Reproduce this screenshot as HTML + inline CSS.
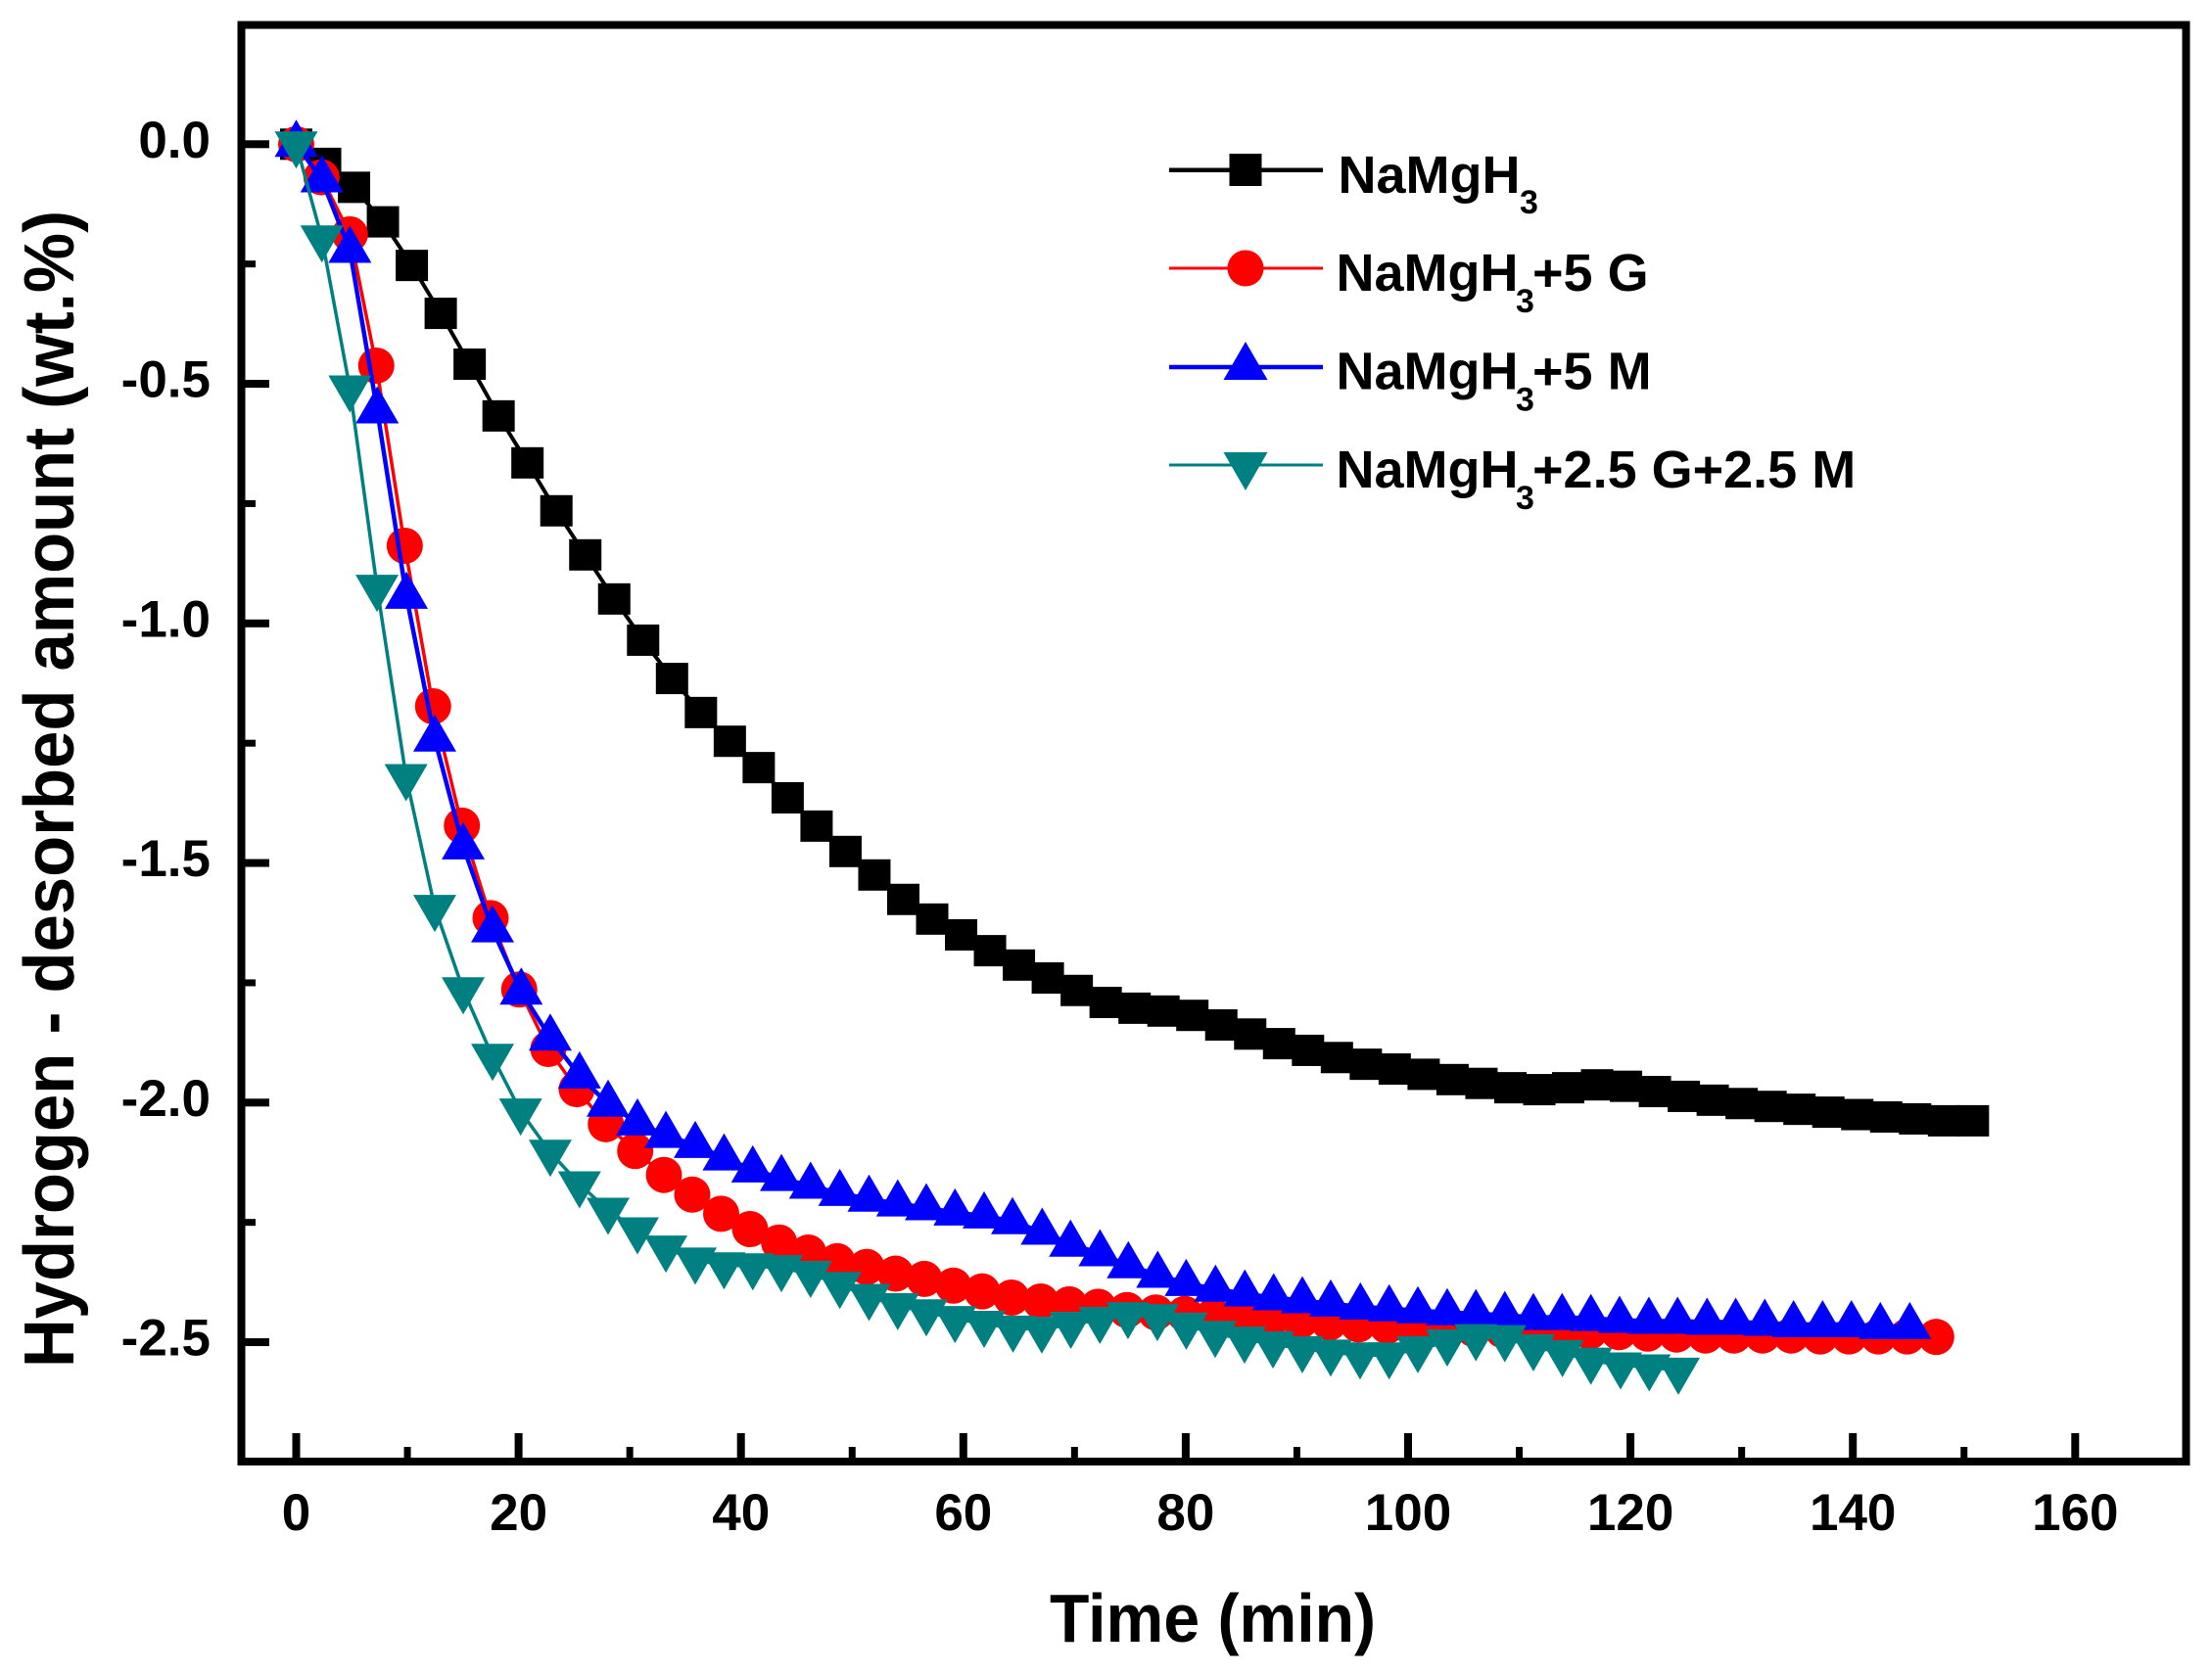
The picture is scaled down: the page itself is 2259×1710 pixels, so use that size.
<!DOCTYPE html>
<html lang="en">
<head>
<meta charset="utf-8">
<title>Hydrogen desorption kinetics</title>
<style>
html,body{margin:0;padding:0;background:#fff;}
svg{display:block;}
text{font-family:"Liberation Sans",Arial,sans-serif;font-weight:bold;fill:#000;}
</style>
</head>
<body>
<svg id="chart" xmlns="http://www.w3.org/2000/svg" width="2259" height="1710" viewBox="0 0 2259 1710">
  <rect x="0" y="0" width="2259" height="1710" fill="#fff"/>
  <g id="plot"></g>
  <g id="axes"></g>
  <rect x="246.7" y="25.3" width="1986" height="1467.7" fill="none" stroke="#000" stroke-width="8" shape-rendering="crispEdges"/>
  <text x="1072" y="1677" font-size="70" textLength="333" lengthAdjust="spacingAndGlyphs">Time (min)</text>
  <text transform="translate(75,1397) rotate(-90)" x="0" y="0" font-size="72" textLength="1182" lengthAdjust="spacingAndGlyphs">Hydrogen - desorbed amount (wt.%)</text>
  <g>
    <g>
      <line x1="1194" y1="173.7" x2="1351" y2="173.7" stroke="#000" stroke-width="4.5"/>
      <rect x="1255.5" y="157" width="33" height="33" fill="#000"/>
      <text x="1366.5" y="197" font-size="54">NaMgH<tspan x="1552" y="218" font-size="34">3</tspan></text>
    </g>
    <g>
      <line x1="1194" y1="274" x2="1351" y2="274" stroke="#f00" stroke-width="3"/>
      <circle cx="1272" cy="274" r="18.5" fill="#f00"/>
      <text x="1364.5" y="297" font-size="54">NaMgH<tspan x="1548" y="319" font-size="34">3</tspan><tspan x="1565" y="297">+5 G</tspan></text>
    </g>
    <g>
      <line x1="1194" y1="375" x2="1351" y2="375" stroke="#00f" stroke-width="4.5"/>
      <path d="M1272 349 L1294.5 388 L1249.5 388 Z" fill="#00f"/>
      <text x="1364.5" y="397.5" font-size="54">NaMgH<tspan x="1548" y="419.5" font-size="34">3</tspan><tspan x="1565" y="397.5">+5 M</tspan></text>
    </g>
    <g>
      <line x1="1194" y1="475" x2="1351" y2="475" stroke="#008080" stroke-width="3"/>
      <path d="M1272 501 L1294.5 462 L1249.5 462 Z" fill="#008080"/>
      <text x="1364.5" y="498" font-size="54">NaMgH<tspan x="1548" y="520" font-size="34">3</tspan><tspan x="1565" y="498">+2.5 G+2.5 M</tspan></text>
    </g>
  </g>
</svg>
<script>
const xMajorTicks = [0, 20, 40, 60, 80, 100, 120, 140, 160];
const xMinorTicks = [10, 30, 50, 70, 90, 110, 130, 150];
const yMajorTicks = [0, -0.5, -1, -1.5, -2, -2.5];
const yMinorTicks = [-0.25, -0.75, -1.25, -1.75, -2.25];
const xTickLabels = ["0", "20", "40", "60", "80", "100", "120", "140", "160"];
const yTickLabels = ["0.0", "-0.5", "-1.0", "-1.5", "-2.0", "-2.5"];

const blackTime = [0,2.6,5.2,7.8,10.4,13,15.6,18.2,20.8,23.4,26,28.6,31.2,33.8,36.4,39,41.6,44.2,46.8,49.4,52,54.6,57.2,59.8,62.4,65,67.6,70.2,72.8,75.4,78,80.6,83.2,85.8,88.4,91,93.6,96.2,98.8,101.4,104,106.6,109.2,111.8,114.4,117,119.6,122.2,124.8,127.4,130,132.6,135.2,137.8,140.4,143,145.6,148.2,150.8];
const blackValues = [0,-0.04,-0.09,-0.162,-0.253,-0.353,-0.459,-0.567,-0.665,-0.765,-0.857,-0.949,-1.035,-1.115,-1.186,-1.246,-1.301,-1.364,-1.423,-1.476,-1.525,-1.576,-1.617,-1.65,-1.683,-1.713,-1.74,-1.766,-1.791,-1.803,-1.809,-1.818,-1.838,-1.857,-1.877,-1.891,-1.906,-1.92,-1.93,-1.941,-1.952,-1.96,-1.969,-1.973,-1.969,-1.963,-1.966,-1.977,-1.987,-1.995,-2.002,-2.008,-2.014,-2.02,-2.025,-2.03,-2.034,-2.038,-2.038];

const redTime = [0,2.27,4.83,7.2,9.76,12.31,14.9,17.48,20.06,22.68,25.23,27.85,30.49,33.07,35.62,38.22,40.82,43.43,46.06,48.66,51.3,53.9,56.49,59.1,61.69,64.33,66.97,69.53,72.13,74.72,77.32,79.92,82.52,85.12,87.72,90.32,92.92,95.52,98.12,100.72,103.32,105.92,108.52,111.12,113.72,116.32,118.96,121.55,124.15,126.75,129.3,131.88,134.46,137.07,139.66,142.3,144.89,147.5];
const redValues = [0,-0.069,-0.188,-0.462,-0.838,-1.173,-1.422,-1.615,-1.764,-1.888,-1.972,-2.045,-2.101,-2.151,-2.192,-2.232,-2.264,-2.292,-2.313,-2.331,-2.343,-2.357,-2.368,-2.382,-2.394,-2.407,-2.415,-2.421,-2.426,-2.433,-2.438,-2.441,-2.445,-2.448,-2.451,-2.455,-2.459,-2.463,-2.466,-2.469,-2.471,-2.473,-2.475,-2.476,-2.477,-2.478,-2.479,-2.482,-2.484,-2.486,-2.486,-2.486,-2.486,-2.488,-2.488,-2.488,-2.488,-2.489];

const blueTime = [0,2.31,4.83,7.29,9.91,12.46,15.02,17.66,20.24,22.85,25.48,28.05,30.69,33.25,35.89,38.48,41.06,43.64,46.26,48.89,51.52,54.1,56.67,59.25,61.87,64.42,67.09,69.64,72.29,74.84,77.48,80.04,82.68,85.32,87.91,90.49,93.04,95.71,98.3,100.88,103.52,106.1,108.7,111.27,113.85,116.44,119.02,121.66,124.24,126.89,129.47,132.08,134.67,137.28,139.87,142.47,145.12];
const blueValues = [0,-0.074,-0.221,-0.556,-0.943,-1.241,-1.466,-1.639,-1.769,-1.865,-1.944,-2.003,-2.042,-2.068,-2.089,-2.115,-2.14,-2.158,-2.174,-2.189,-2.201,-2.211,-2.219,-2.23,-2.236,-2.248,-2.27,-2.295,-2.315,-2.34,-2.36,-2.377,-2.389,-2.399,-2.407,-2.413,-2.42,-2.426,-2.43,-2.434,-2.438,-2.44,-2.444,-2.448,-2.448,-2.45,-2.454,-2.456,-2.456,-2.458,-2.458,-2.46,-2.463,-2.463,-2.463,-2.467,-2.467];

const tealTime = [0,2.31,4.83,7.27,9.88,12.46,15.02,17.66,20.18,22.85,25.48,28.05,30.69,33.25,35.89,38.48,41.06,43.64,46.26,48.89,51.52,54.1,56.67,59.25,61.87,64.47,67.06,69.67,72.28,74.81,77.45,80.05,82.65,85.29,87.85,90.49,93.04,95.68,98.3,100.88,103.52,106.1,108.7,111.27,113.88,116.44,119.11,121.69,124.31];
const tealValues = [0,-0.196,-0.509,-0.925,-1.32,-1.593,-1.765,-1.904,-2.018,-2.104,-2.17,-2.225,-2.266,-2.304,-2.329,-2.339,-2.341,-2.345,-2.357,-2.38,-2.405,-2.424,-2.437,-2.451,-2.461,-2.471,-2.473,-2.463,-2.453,-2.443,-2.447,-2.465,-2.482,-2.494,-2.504,-2.514,-2.521,-2.527,-2.527,-2.514,-2.5,-2.489,-2.491,-2.51,-2.522,-2.538,-2.548,-2.552,-2.559];

const SVG_NS = "http://www.w3.org/2000/svg";
const xScale = t => 302.5 + 11.355 * t;
const yScale = v => 147.3 - 489.5 * v;

function make(parent, tag, attrs) {
  const el = document.createElementNS(SVG_NS, tag);
  for (const k in attrs) el.setAttribute(k, attrs[k]);
  parent.appendChild(el);
  return el;
}

const axes = document.getElementById("axes");
const plot = document.getElementById("plot");

xMajorTicks.forEach((t, i) => {
  const tick = make(axes, "rect", {x: xScale(t) - 4, y: 1464, width: 8, height: 27, fill: "#000"});
  
  
  const label = make(axes, "text", {x: xScale(t), y: 1563, "font-size": 53, "text-anchor": "middle"});
  label.textContent = xTickLabels[i];
  
  
});
xMinorTicks.forEach(t => {
  const tick = make(axes, "rect", {x: xScale(t) - 3.5, y: 1478, width: 7, height: 13, fill: "#000"});
  
  
});
yMajorTicks.forEach((v, i) => {
  const tick = make(axes, "rect", {x: 248, y: yScale(v) - 4, width: 27, height: 8, fill: "#000"});
  
  
  const label = make(axes, "text", {x: 215, y: yScale(v) + 13.5, "font-size": 53, "text-anchor": "end"});
  label.textContent = yTickLabels[i];
  
  
});
yMinorTicks.forEach(v => {
  const tick = make(axes, "rect", {x: 248, y: yScale(v) - 3.5, width: 13, height: 7, fill: "#000"});
  
  
});

function drawMarker(group, shape, color, cx, cy) {
  if (shape === "square") {
    return make(group, "rect", {x: cx - 16.5, y: cy - 16, width: 33, height: 32, fill: color});
  }
  if (shape === "circle") {
    return make(group, "circle", {cx: cx, cy: cy, r: 18.5, fill: color});
  }
  if (shape === "up") {
    return make(group, "path", {d: `M${cx} ${cy - 25} L${cx + 22} ${cy + 13} L${cx - 22} ${cy + 13} Z`, fill: color});
  }
  return make(group, "path", {d: `M${cx} ${cy + 25} L${cx + 22} ${cy - 13} L${cx - 22} ${cy - 13} Z`, fill: color});
}

function drawSeries(name, times, values, color, width, shape) {
  const group = make(plot, "g", {});
  
  
  const pts = times.map((t, i) => xScale(t).toFixed(1) + "," + yScale(values[i]).toFixed(1)).join(" ");
  const line = make(group, "polyline", {points: pts, fill: "none", stroke: color, "stroke-width": width, "stroke-linejoin": "round"});
  
  
  times.forEach((t, i) => {
    const marker = drawMarker(group, shape, color, xScale(t), yScale(values[i]));
    
    
  });
}

drawSeries("series-namgh3", blackTime, blackValues, "#000", 4, "square");
drawSeries("series-namgh3-5g", redTime, redValues, "#f00", 3.5, "circle");
drawSeries("series-namgh3-5m", blueTime, blueValues, "#00f", 4.5, "up");
drawSeries("series-namgh3-2-5g-2-5m", tealTime, tealValues, "#008080", 3.5, "down");
</script>
</body>
</html>
